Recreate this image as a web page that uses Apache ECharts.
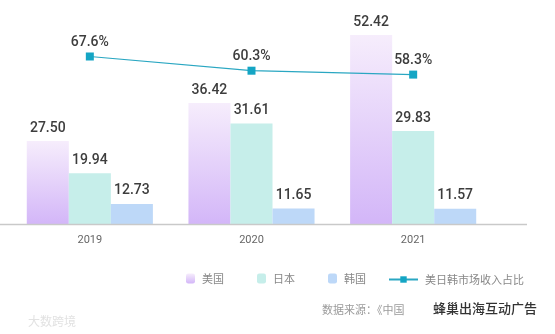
<!DOCTYPE html>
<html>
<head>
<meta charset="utf-8">
<script src="https://cdn.jsdelivr.net/npm/echarts@6/dist/echarts.min.js"></script>
<style>
  html, body { margin: 0; padding: 0; background: #ffffff; }
  #chart { width: 555px; height: 334px; }
</style>
</head>
<body>
<div id="chart"></div>
<script>
// Revenue by market (US / Japan / Korea) and their combined share, 2019-2021
const years = ['2019', '2020', '2021'];
const usRevenue = [27.50, 36.42, 52.42];
const jpRevenue = [19.94, 31.61, 29.83];
const krRevenue = [12.73, 11.65, 11.57];
const combinedShare = [67.6, 60.3, 58.3];

const seriesNames = ['美国', '日本', '韩国', '美日韩市场收入占比'];

const numFont = 'Roboto, "Noto Sans", sans-serif';
const cjkFont = '"Noto Sans CJK SC", "Noto Sans", sans-serif';

const barLabel = {
  show: true,
  position: 'top',
  distance: 6,
  color: '#3d3d3d',
  fontFamily: numFont,
  fontWeight: 500,
  fontSize: 14,
  formatter: p => p.value.toFixed(2)
};

const chart = echarts.init(document.getElementById('chart'), null, { renderer: 'canvas' });

chart.setOption({
  backgroundColor: '#ffffff',
  animation: false,
  grid: { left: 9, right: 61, top: 10, bottom: 110, containLabel: false },
  xAxis: {
    type: 'category',
    data: years,
    axisLine: { show: false },
    axisTick: { show: false },
    axisLabel: { color: '#666666', fontSize: 11, fontFamily: numFont, margin: 11 }
  },
  yAxis: [
    { type: 'value', min: 8, max: 58.3, show: false, splitLine: { show: false } },
    { type: 'value', min: -18.5, max: 91.5, show: false, splitLine: { show: false } }
  ],
  legend: [
    {
      data: seriesNames.slice(0, 3),
      left: 186,
      top: 273,
      padding: 0,
      itemWidth: 9,
      itemHeight: 10,
      itemGap: 33,
      textStyle: { color: '#888888', fontSize: 11, fontFamily: cjkFont, padding: [0, 0, 0, 2] }
    },
    {
      data: [seriesNames[3]],
      left: 388,
      top: 274,
      padding: 0,
      itemWidth: 29,
      itemHeight: 8,
      textStyle: { color: '#888888', fontSize: 11, fontFamily: cjkFont, padding: [0, 0, 0, 2] }
    }
  ],
  graphic: [
    {
      type: 'line',
      shape: { x1: 0, y1: 224.5, x2: 527, y2: 224.5 },
      style: { stroke: '#c9c9c9', lineWidth: 1.5 },
      z: 10
    },
    {
      type: 'text',
      left: 322,
      top: 304,
      style: { text: '数据来源：《中国', fill: '#9a9a9a', fontSize: 11, fontFamily: cjkFont }
    },
    {
      type: 'text',
      left: 433,
      top: 302,
      style: { text: '蜂巢出海互动广告', fill: '#333333', fontSize: 13, fontWeight: 500, fontFamily: cjkFont }
    },
    {
      type: 'text',
      left: 28,
      top: 315,
      style: { text: '大数跨境', fill: '#e2e2e2', fontSize: 12, fontFamily: cjkFont }
    }
  ],
  series: [
    {
      name: seriesNames[0],
      type: 'bar',
      data: usRevenue,
      barGap: '0%',
      barCategoryGap: '22%',
      itemStyle: {
        color: new echarts.graphic.LinearGradient(0, 0, 0, 1, [
          { offset: 0, color: '#f6edfc' },
          { offset: 1, color: '#d3b6f8' }
        ])
      },
      label: barLabel
    },
    {
      name: seriesNames[1],
      type: 'bar',
      data: jpRevenue,
      itemStyle: { color: '#c6eeea' },
      label: barLabel
    },
    {
      name: seriesNames[2],
      type: 'bar',
      data: krRevenue,
      itemStyle: { color: '#bdd8f8' },
      label: barLabel
    },
    {
      name: seriesNames[3],
      type: 'line',
      yAxisIndex: 1,
      data: combinedShare,
      symbol: 'rect',
      symbolSize: 8,
      lineStyle: { color: '#2aa7c2', width: 1.2 },
      itemStyle: { color: '#14a5c4' },
      z: 5,
      label: {
        show: true,
        position: 'top',
        distance: 3,
        color: '#3d3d3d',
        fontFamily: numFont,
        fontWeight: 500,
        fontSize: 14,
        formatter: p => p.value.toFixed(1) + '%'
      }
    }
  ]
});
</script>
</body>
</html>
